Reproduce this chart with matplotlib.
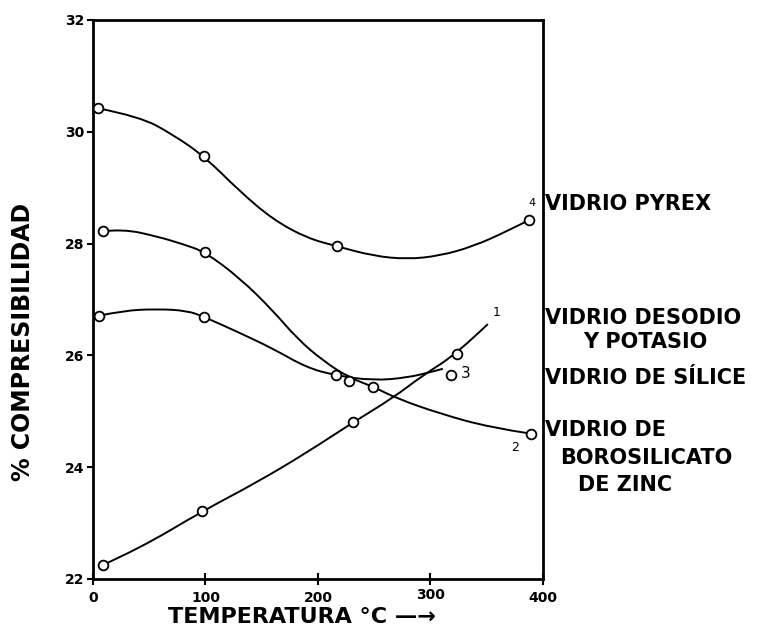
#--------------------#
#COMPRESIBILIDAD DE VIDRIOS vs TEMPERATURA
import matplotlib
matplotlib.use('Agg')
import matplotlib.pyplot as plt
from matplotlib.path import Path
from matplotlib.patches import PathPatch

#--------------------#
#DATA
#curve 4 - vidrio pyrex
pyrex_x = [4.7, 41.8, 71, 99, 130.7, 160, 190, 217, 249, 279, 308, 338, 368, 387.5]
pyrex_y = [30.42, 30.27, 29.95, 29.56, 28.93, 28.43, 28.10, 27.95, 27.78, 27.72, 27.78, 27.95, 28.22, 28.42]
pyrex_pts_x = [4.7, 99, 217, 387.5]
pyrex_pts_y = [30.42, 29.56, 27.95, 28.42]

#curve 2 - vidrio de borosilicato de zinc
boro_x = [8.6, 26.7, 56.6, 80, 99.6, 130.7, 160, 181, 204.6, 228, 249, 270, 308, 353, 389]
boro_y = [28.22, 28.26, 28.13, 27.99, 27.85, 27.38, 26.80, 26.31, 25.90, 25.60, 25.44, 25.23, 24.96, 24.71, 24.60]
boro_pts_x = [8.6, 99.6, 249, 389]
boro_pts_y = [28.22, 27.85, 25.44, 24.60]

#curve 3 - vidrio de silice
sil_x = [5.6, 26.7, 56.6, 83.6, 98.7, 130.7, 160, 190, 216, 249, 279, 302, 311]
sil_y = [26.71, 26.80, 26.83, 26.80, 26.69, 26.40, 26.12, 25.78, 25.64, 25.55, 25.60, 25.71, 25.76]
sil_pts_x = [5.6, 98.7, 216, 227.6, 318]
sil_pts_y = [26.71, 26.69, 25.64, 25.55, 25.65]

#curve 1 - vidrio de sodio y potasio
sod_x = [8.6, 41.8, 97, 145.8, 190, 231, 266.7, 293, 323.5, 351]
sod_y = [22.25, 22.55, 23.21, 23.73, 24.26, 24.80, 25.24, 25.64, 26.03, 26.56]
sod_pts_x = [8.6, 97, 231, 323.5]
sod_pts_y = [22.25, 23.21, 24.80, 26.03]

x_ticks = [0, 100, 200, 300, 400]
y_ticks = [22, 24, 26, 28, 30, 32]


#--------------------#
#smooth curve through the traced points (quadratic pieces, traced points as controls)
def smooth_line(ax, xs, ys):
    pts = list(zip(xs, ys))
    verts = [pts[0]]
    codes = [Path.MOVETO]
    n = len(pts)
    for i in range(1, n - 1):
        if i == n - 2:
            end = pts[n - 1]
        else:
            end = ((pts[i][0] + pts[i + 1][0]) / 2, (pts[i][1] + pts[i + 1][1]) / 2)
        verts += [pts[i], end]
        codes += [Path.CURVE3, Path.CURVE3]
    ax.add_patch(PathPatch(Path(verts, codes), fc='none', ec='black', lw=1.4))


#--------------------#
#FIGURE
plt.rcParams['font.family'] = ['DejaVu Sans']
fig = plt.figure(figsize=(7.59, 6.32), dpi=100)
ax = fig.add_axes([0.1225, 0.0839, 0.5929, 0.8845])

for cx, cy, px, py in [(pyrex_x, pyrex_y, pyrex_pts_x, pyrex_pts_y),
                       (boro_x, boro_y, boro_pts_x, boro_pts_y),
                       (sil_x, sil_y, sil_pts_x, sil_pts_y),
                       (sod_x, sod_y, sod_pts_x, sod_pts_y)]:
    smooth_line(ax, cx, cy)
    ax.plot(px, py, 'o', ms=7, mfc='white', mec='black', mew=1.3, zorder=3)

#curve numbers
ax.text(390, 28.72, '4', fontsize=8, ha='center', va='center')
ax.text(375, 24.35, '2', fontsize=9, ha='center', va='center')
ax.text(331, 25.67, '3', fontsize=11, ha='center', va='center')
ax.text(359, 26.76, '1', fontsize=9, ha='center', va='center')

#axes
ax.set_xlim(0, 400)
ax.set_ylim(22, 32)
ax.set_xticks(x_ticks)
ax.set_yticks(y_ticks)
ax.set_xticklabels(['0', '100', '200', '', '400'], fontsize=10, fontweight='bold')
ax.set_yticklabels([str(t) for t in y_ticks], fontsize=10, fontweight='bold')
ax.text(300, 21.72, '300', fontsize=10, fontweight='bold', ha='center', va='center')
ax.tick_params(axis='x', direction='inout', length=9, width=1.5, pad=4)
ax.tick_params(axis='y', direction='out', length=4, width=1.5, pad=2)
for s in ax.spines.values():
    s.set_linewidth(2)

#axis titles placed where they sit in the figure
fig.text(302 / 759, 1 - 617 / 632, 'TEMPERATURA \u00b0C \u2014\u2192', fontsize=16,
         fontweight='bold', ha='center', va='center')
fig.text(23 / 759, 1 - 342 / 632, '% COMPRESIBILIDAD', fontsize=17,
         fontweight='bold', ha='center', va='center', rotation=90)

#--------------------#
#RIGHT SIDE LABELS
kw = dict(fontsize=15, fontweight='bold', va='center', transform=fig.transFigure)
def lab(px, py, s):
    fig.text(px / 759, 1 - py / 632, s, **kw)

lab(545, 204, 'VIDRIO PYREX')
lab(545, 318, 'VIDRIO DESODIO')
lab(583, 342, 'Y POTASIO')
lab(545, 378, 'VIDRIO DE SÍLICE')
lab(545, 430, 'VIDRIO DE')
lab(560, 458, 'BOROSILICATO')
lab(578, 485, 'DE ZINC')

plt.savefig('out.png', dpi=100)
